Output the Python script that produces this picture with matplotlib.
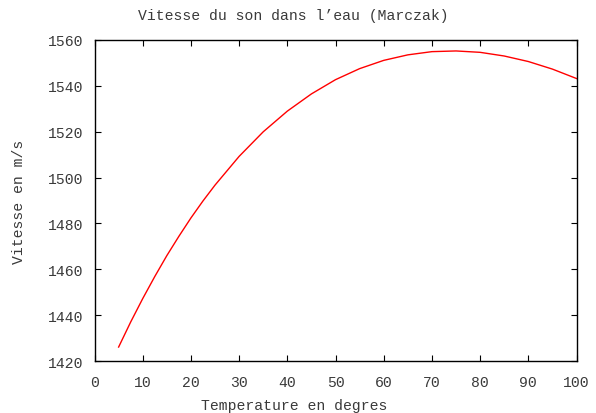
import matplotlib
matplotlib.use("Agg")
import matplotlib.pyplot as plt

# temperature (deg C) and speed of sound (m/s)
temperature = [5, 7.5, 10, 12.5, 15, 17.5, 20, 22.5, 25, 30, 35, 40, 45, 50,
               55, 60, 65, 70, 75, 80, 85, 90, 95, 100]
vitesse = [1426.2, 1437.1, 1447.3, 1456.9, 1466.0, 1474.4, 1482.4, 1489.8,
           1496.7, 1509.2, 1519.9, 1528.9, 1536.4, 1542.6, 1547.4, 1551.0,
           1553.4, 1554.8, 1555.1, 1554.5, 1552.9, 1550.5, 1547.2, 1543.1]

xticks = list(range(0, 101, 10))
yticks = list(range(1420, 1561, 20))

plt.rcParams['font.family'] = ['Liberation Mono', 'DejaVu Sans Mono']
plt.rcParams['font.size'] = 10.6
txt = '#3a3a3a'

fig = plt.figure(figsize=(5.96, 4.14), dpi=100)
ax = fig.add_axes([0.1586, 0.1249, 0.8087, 0.7768])

ax.plot(temperature, vitesse, color='red', lw=1.0)

ax.set_xlim(0, 100)
ax.set_ylim(1420, 1560)
ax.set_xticks(xticks)
ax.set_yticks(yticks)
ax.tick_params(direction='in', length=4, width=0.8, top=True, right=True,
               colors='black', labelcolor=txt)
ax.tick_params(axis='x', pad=10)
ax.tick_params(axis='y', pad=8)
for s in ax.spines.values():
    s.set_linewidth(1.0)

# gnuplot centres the title and x label on the whole canvas
fig.text(0.492, 0.962, "Vitesse du son dans l’eau (Marczak)", ha='center',
         va='center', color=txt)
fig.text(0.493, 0.019, "Temperature en degres", ha='center', va='center',
         color=txt)
ax.set_ylabel("Vitesse en m/s", labelpad=16, color=txt)

fig.savefig("out.png", dpi=100)
